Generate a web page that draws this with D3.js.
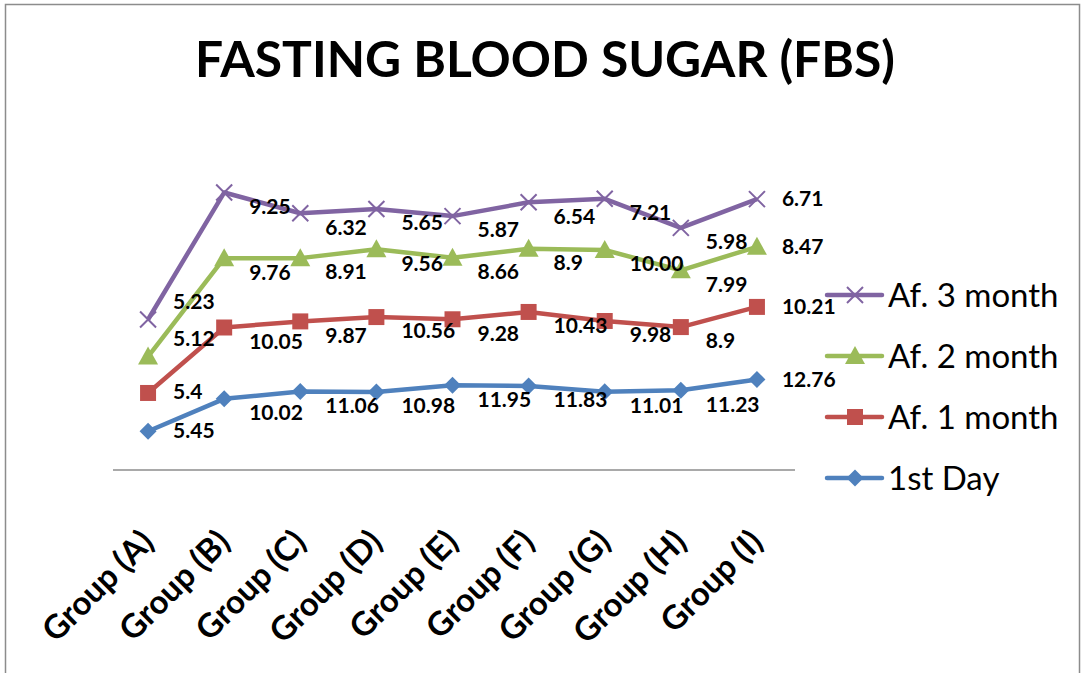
<!DOCTYPE html>
<html lang="en">
<head>
    <meta charset="UTF-8">
    <title>Fasting Blood Sugar (FBS)</title>
    <script src="https://d3js.org/d3.v7.min.js"></script>
    <style>
        body { margin: 0; background: #fff; }
        svg { display: block; }
        text { font-family: Lato, "Open Sans", sans-serif; fill: #000; }
    </style>
</head>
<body>
<script>
    // chart data
    const groups = ['Group (A)', 'Group (B)', 'Group (C)', 'Group (D)', 'Group (E)',
                    'Group (F)', 'Group (G)', 'Group (H)', 'Group (I)'];
    const firstDay = [5.45, 10.02, 11.06, 10.98, 11.95, 11.83, 11.01, 11.23, 12.76];
    const month1 = [5.4, 10.05, 9.87, 10.56, 9.28, 10.43, 9.98, 8.9, 10.21];
    const month2 = [5.12, 9.76, 8.91, 9.56, 8.66, 8.9, 10.00, 7.99, 8.47];
    const month3 = [5.23, 9.25, 6.32, 5.65, 5.87, 6.54, 7.21, 5.98, 6.71];
    const labelText = {
        firstDay: ['5.45', '10.02', '11.06', '10.98', '11.95', '11.83', '11.01', '11.23', '12.76'],
        month1: ['5.4', '10.05', '9.87', '10.56', '9.28', '10.43', '9.98', '8.9', '10.21'],
        month2: ['5.12', '9.76', '8.91', '9.56', '8.66', '8.9', '10.00', '7.99', '8.47'],
        month3: ['5.23', '9.25', '6.32', '5.65', '5.87', '6.54', '7.21', '5.98', '6.71']
    };

    const series = [
        { key: 'firstDay', name: '1st Day', color: '#4F81BD', marker: 'diamond' },
        { key: 'month1', name: 'Af. 1 month', color: '#C0504D', marker: 'square' },
        { key: 'month2', name: 'Af. 2 month', color: '#9BBB59', marker: 'triangle' },
        { key: 'month3', name: 'Af. 3 month', color: '#8064A2', marker: 'cross' }
    ];

    const rows = groups.map((g, i) => ({
        group: g, firstDay: firstDay[i], month1: month1[i], month2: month2[i], month3: month3[i]
    }));
    const stacked = d3.stack().keys(series.map(s => s.key))(rows);

    const width = 1083, height = 673;
    const svg = d3.select('body').append('svg')
        .attr('width', width)
        .attr('height', height);

    // chart frame
    svg.append('rect')
        .attr('x', 5.5).attr('y', 4.5)
        .attr('width', 1074).attr('height', 680)
        .attr('fill', 'none')
        .attr('stroke', '#8c8c8c')
        .attr('stroke-width', 1.5);

    svg.append('text')
        .attr('x', 545).attr('y', 77)
        .attr('text-anchor', 'middle')
        .attr('font-size', 49)
        .attr('font-weight', 'bold')
        .attr('textLength', 700)
        .attr('lengthAdjust', 'spacingAndGlyphs')
        .text('FASTING BLOOD SUGAR (FBS)');

    const x = d3.scalePoint().domain(groups).range([110, 795]).padding(0.5);
    const y = d3.scaleLinear().domain([0, 40]).range([470, 186]);

    // category axis
    const xAxis = svg.append('g')
        .attr('transform', 'translate(0,470)')
        .call(d3.axisBottom(x).tickSize(0).tickPadding(0));
    xAxis.attr('font-size', null).attr('font-family', null);
    xAxis.select('.domain').attr('stroke', '#8c8c8c').attr('stroke-width', 1.5)
        .attr('d', 'M113,0H795');
    xAxis.selectAll('.tick text')
        .style('font-size', '33px')
        .style('font-weight', 'bold')
        .attr('fill', '#000')
        .attr('text-anchor', 'end')
        .attr('transform', 'translate(-1,66) rotate(-45)')
        .attr('dy', '0.35em')
        .attr('y', 0);

    function markerPath(type) {
        if (type === 'diamond') return 'M0,-8.5L8.5,0L0,8.5L-8.5,0Z';
        if (type === 'square') return 'M-8,-8H8V8H-8Z';
        if (type === 'triangle') return 'M0,-10L10,8H-10Z';
        return 'M-8,-8L8,8M8,-8L-8,8';
    }

    function drawMarker(sel, s) {
        sel.append('path')
            .attr('d', markerPath(s.marker))
            .attr('fill', s.marker === 'cross' ? 'none' : s.color)
            .attr('stroke', s.color)
            .attr('stroke-width', s.marker === 'cross' ? 2 : 0);
    }

    const line = d3.line()
        .x((d, i) => x(groups[i]))
        .y(d => y(d[1]));

    const plot = svg.append('g');
    series.forEach((s, k) => {
        const layer = stacked[k];
        const g = plot.append('g');
        g.append('path')
            .datum(layer)
            .attr('d', line)
            .attr('fill', 'none')
            .attr('stroke', s.color)
            .attr('stroke-width', 4.5)
            .attr('stroke-linejoin', 'round');

        layer.forEach((d, i) => {
            const m = g.append('g')
                .attr('transform', `translate(${x(groups[i])},${y(d[1])})`);
            drawMarker(m, s);
        });
    });

    // data labels, to the right of each point
    series.forEach((s, k) => {
        const layer = stacked[k];
        layer.forEach((d, i) => {
            let dy = 14;
            if (i === 0) dy = k >= 2 ? -18 : -1;
            if (i === groups.length - 1) dy = 0;
            svg.append('text')
                .attr('x', x(groups[i]) + 25)
                .attr('y', y(d[1]) + dy)
                .attr('dy', '0.35em')
                .attr('font-size', 21)
                .attr('font-weight', 'bold')
                .text(labelText[s.key][i]);
        });
    });

    // legend, top entry is the last series
    const legend = svg.append('g');
    series.slice().reverse().forEach((s, j) => {
        const cy = 295 + j * 61;
        const row = legend.append('g').attr('transform', `translate(0,${cy})`);
        row.append('line')
            .attr('x1', 827).attr('x2', 882)
            .attr('stroke', s.color)
            .attr('stroke-width', 4.5)
            .attr('stroke-linecap', 'round');
        const m = row.append('g').attr('transform', 'translate(855,0)');
        drawMarker(m, s);
        row.append('text')
            .attr('x', 888)
            .attr('dy', '0.36em')
            .attr('font-size', 33)
            .text(s.name);
    });
</script>
</body>
</html>
